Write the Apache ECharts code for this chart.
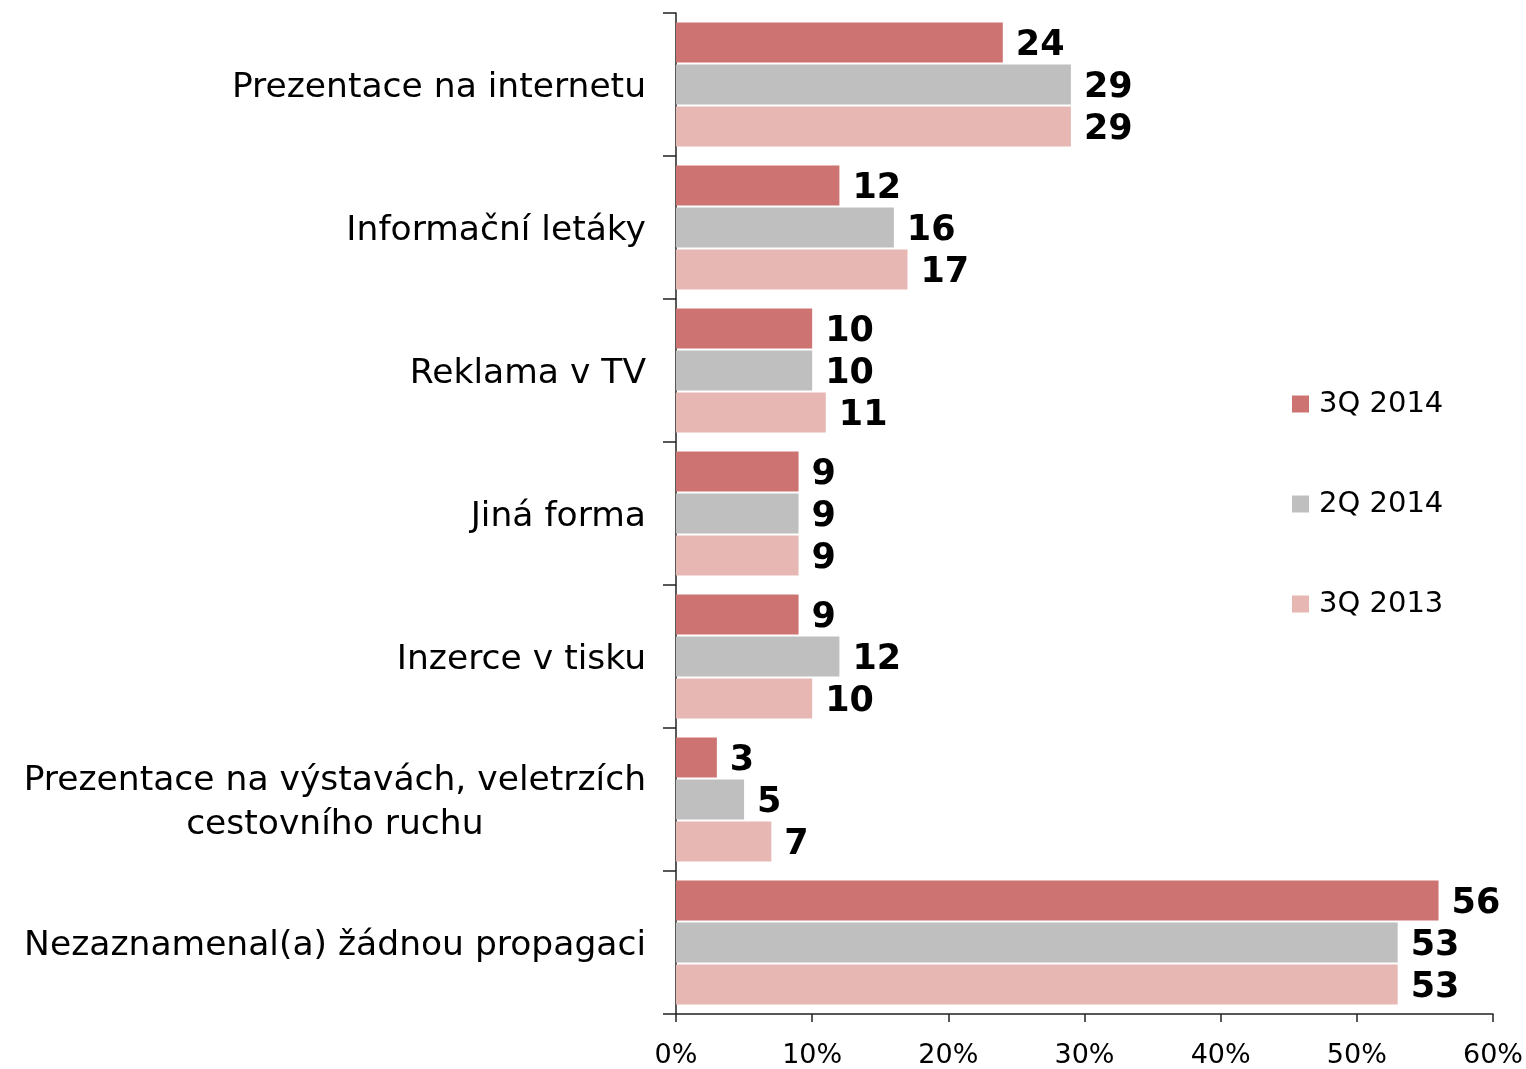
<!DOCTYPE html>
<html>
<head>
<meta charset="utf-8">
<script src="https://cdn.jsdelivr.net/npm/echarts@6/dist/echarts.min.js"></script>
<style>
  html, body { margin: 0; padding: 0; background: #fff; }
  #chart { width: 1526px; height: 1069px; }
</style>
</head>
<body>
<div id="chart"></div>
<script>
// Categories (top to bottom)
const categories = [
  'Prezentace na internetu',
  'Informační letáky',
  'Reklama v TV',
  'Jiná forma',
  'Inzerce v tisku',
  'Prezentace na výstavách, veletrzích\ncestovního ruchu',
  'Nezaznamenal(a) žádnou propagaci'
];

// Shares in percent per survey wave
const q3_2014 = [24, 12, 10, 9, 9, 3, 56];
const q2_2014 = [29, 16, 10, 9, 12, 5, 53];
const q3_2013 = [29, 17, 11, 9, 10, 7, 53];

const seriesNames = ['3Q 2014', '2Q 2014', '3Q 2013'];
const xTicks = [0, 10, 20, 30, 40, 50, 60];

const FONT = 'DejaVu Sans';
const colors = ['#CD7371', '#BFBFBF', '#E6B7B3'];

const chart = echarts.init(document.getElementById('chart'), null, { renderer: 'canvas' });

function barSeries(name, data, color) {
  return {
    name: name,
    type: 'bar',
    data: data,
    barWidth: 40,
    barGap: '5%',
    itemStyle: { color: color },
    label: {
      show: true,
      position: 'right',
      distance: 13,
      offset: [0, 3],
      formatter: p => String(p.value),
      color: '#000',
      fontFamily: FONT,
      fontWeight: 'bold',
      fontSize: 35
    }
  };
}

chart.setOption({
  animation: false,
  backgroundColor: '#fff',
  color: colors,
  grid: { left: 676, right: 33, top: 13, bottom: 54, containLabel: false },
  legend: {
    orient: 'vertical',
    left: 1287,
    top: 384,
    icon: 'rect',
    itemWidth: 17,
    itemHeight: 17,
    itemGap: 70,
    data: seriesNames,
    textStyle: { fontFamily: FONT, fontSize: 29, lineHeight: 30, color: '#000', padding: [0, 0, 0, 5] }
  },
  xAxis: {
    type: 'value',
    min: xTicks[0],
    max: xTicks[xTicks.length - 1],
    interval: 10,
    splitLine: { show: false },
    axisLine: { show: true, lineStyle: { color: '#222', width: 1.5 } },
    axisTick: { show: true, length: 8, lineStyle: { color: '#222', width: 1.5 } },
    axisLabel: {
      formatter: v => v + '%',
      fontFamily: FONT,
      fontSize: 27,
      color: '#000',
      margin: 28
    }
  },
  yAxis: {
    type: 'category',
    inverse: true,
    data: categories,
    axisLine: { show: true, lineStyle: { color: '#222', width: 1.5 } },
    axisTick: { show: true, length: 13, lineStyle: { color: '#222', width: 1.5 } },
    axisLabel: {
      margin: 30,
      align: 'right',
      padding: [8, 0, 0, 0],
      formatter: v => v.split('\n').map(s => '{c|' + s + '}').join('\n'),
      rich: {
        c: { align: 'center', fontFamily: FONT, fontSize: 34.5, lineHeight: 44, color: '#000' }
      }
    }
  },
  series: [
    barSeries(seriesNames[0], q3_2014, colors[0]),
    barSeries(seriesNames[1], q2_2014, colors[1]),
    barSeries(seriesNames[2], q3_2013, colors[2])
  ]
});
</script>
</body>
</html>
